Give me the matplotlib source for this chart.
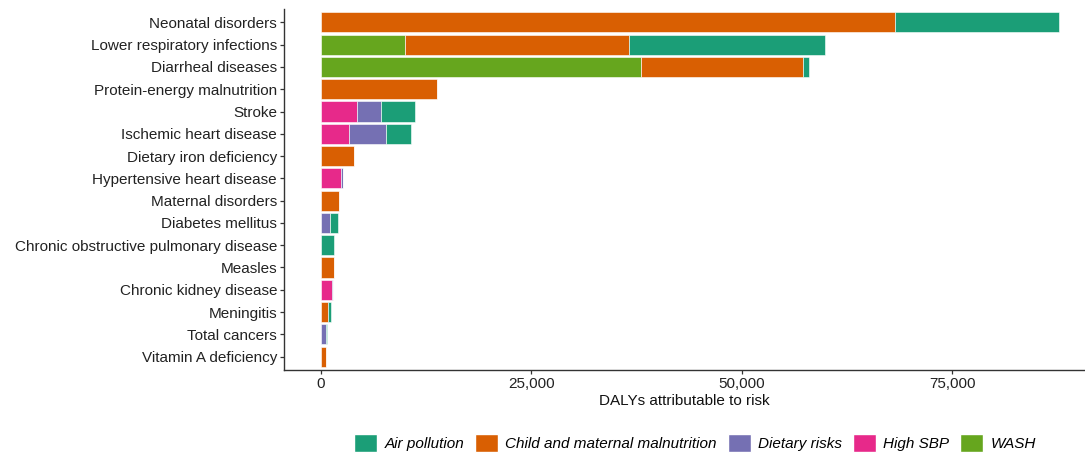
import matplotlib
matplotlib.use("Agg")
import matplotlib.pyplot as plt
from matplotlib.patches import Patch
from matplotlib.ticker import FuncFormatter

plt.rcParams["font.family"] = ["Liberation Sans", "DejaVu Sans"]

diseases = [
    "Neonatal disorders", "Lower respiratory infections", "Diarrheal diseases",
    "Protein-energy malnutrition", "Stroke", "Ischemic heart disease",
    "Dietary iron deficiency", "Hypertensive heart disease", "Maternal disorders",
    "Diabetes mellitus", "Chronic obstructive pulmonary disease", "Measles",
    "Chronic kidney disease", "Meningitis", "Total cancers", "Vitamin A deficiency",
]

# DALYs per risk factor (stacked left to right: WASH, High SBP, Dietary, Child, Air)
wash = [0, 9960, 38080, 0, 0, 0, 0, 0, 0, 0, 0, 0, 0, 0, 0, 0]
high_sbp = [0, 0, 0, 0, 4230, 3280, 0, 2410, 0, 0, 0, 0, 1300, 0, 0, 0]
dietary = [0, 0, 0, 0, 2850, 4470, 0, 240, 0, 1070, 0, 0, 120, 0, 590, 0]
child_maternal = [68170, 26610, 19250, 13840, 0, 0, 3910, 0, 2100, 0, 0, 1540, 0, 830, 0, 590]
air_pollution = [19490, 23330, 600, 0, 4150, 3000, 0, 0, 0, 910, 1540, 0, 0, 360, 160, 0]

series = [
    ("WASH", wash, "#66A61E"),
    ("High SBP", high_sbp, "#E7298A"),
    ("Dietary risks", dietary, "#7570B3"),
    ("Child and maternal malnutrition", child_maternal, "#D95F02"),
    ("Air pollution", air_pollution, "#1B9E77"),
]

W, H = 1085, 454
fig = plt.figure(figsize=(W / 100, H / 100), dpi=100)
ax = fig.add_axes([284 / W, 1 - 370 / H, (1085 - 284) / W, (370 - 9) / H])

ypos = list(range(len(diseases)))
left = [0] * len(diseases)
for name, vals, color in series:
    ax.barh(ypos, vals, left=left, height=0.9, color=color,
            edgecolor="white", linewidth=0.4)
    left = [l + v for l, v in zip(left, vals)]

ax.set_ylim(len(diseases) - 0.4, -0.6)
ax.set_xlim(-4390, 90780)
ax.set_yticks(ypos)
ax.set_yticklabels(diseases)
ax.set_xticks([0, 25000, 50000, 75000])
ax.xaxis.set_major_formatter(FuncFormatter(lambda v, p: f"{int(v):,}"))
ax.tick_params(axis="both", labelsize=11, colors="#333333", length=3, width=0.9, pad=2)
ax.tick_params(axis="both", labelcolor="#222222")

for side in ("top", "right"):
    ax.spines[side].set_visible(False)
for side in ("left", "bottom"):
    ax.spines[side].set_color("#333333")
    ax.spines[side].set_linewidth(1.0)

ax.set_xlabel("DALYs attributable to risk", fontsize=11, color="#111111", labelpad=2)

handles = [Patch(facecolor=c, edgecolor="white", label=n) for n, _, c in reversed(series)]
fig.legend(handles=handles, loc="center", bbox_to_anchor=(695 / W, 1 - 443 / H),
           ncol=5, frameon=False, prop={"style": "italic", "size": 11},
           handlelength=1.5, handleheight=1.5, handletextpad=0.5, columnspacing=0.7)

fig.savefig("out.png", dpi=100)
